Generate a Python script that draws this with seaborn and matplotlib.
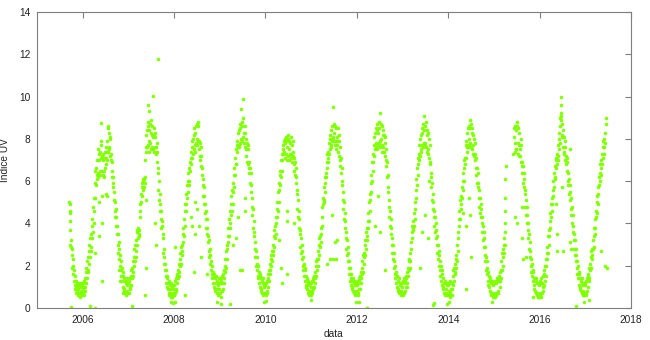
import numpy as np
import pandas as pd
import matplotlib
matplotlib.use("Agg")
import matplotlib.pyplot as plt
import seaborn as sns

# ---------------- data (UV index, one reading every 3 days) ----------------
STEP_DAYS = 3

uv_2005 = [5.0, 4.6, 4.1, 3.7, 2.9, 3.2, 2.5, 2.8, 1.9, 2.3,
           1.6, 2.0, 1.3, 1.8, 1.1, 1.5, 0.9, 1.3, 1.0, 0.7,
           1.2, 0.8, 1.1, 0.6, 0.9, 1.2, 0.7, 1.0, 0.5, 1.1,
           0.8, 1.2, 0.7, 1.0, 0.6, 1.1]
uv_2006 = [0.7, 1.2, 0.9, 0.6, 1.3, 0.8, 1.4, 1.0, 1.7, 1.2,
           1.9, 1.4, 2.2, 1.7, 2.4, 1.8, 2.7, 2.1, 3.0, 2.4,
           3.3, 2.7, 3.5, 2.9, 3.9, 3.3, 4.2, 3.6, 4.8, 4.0,
           5.2, 4.6, 5.9, 5.2, 6.5, 5.8, 6.6, 6.1, 7.0, 6.3,
           6.4, 7.5, 6.2, 7.0, 7.3, 6.3, 7.4, 6.5, 7.1, 7.7,
           7.9, 6.5, 7.2, 6.3, 7.0, 7.3, 6.2, 7.1, 6.5, 7.4,
           6.6, 7.1, 7.6, 6.8, 7.4, 7.0, 7.9, 7.4, 8.5, 7.6,
           8.3, 7.5, 8.1, 7.2, 8.0, 7.0, 7.3, 6.5, 6.9, 6.2,
           6.2, 5.7, 5.9, 5.1, 5.5, 4.6, 5.0, 4.3, 4.7, 3.9,
           4.3, 3.5, 3.9, 3.0, 3.5, 2.6, 3.1, 2.3, 2.8, 2.0,
           2.5, 1.8, 2.2, 1.5, 1.9, 1.3, 1.7, 1.0, 1.5, 0.9,
           1.4, 0.8, 1.3, 0.7, 1.2, 0.6, 1.3, 0.8, 1.1, 1.4,
           0.7, 1.2]
uv_2007 = [1.2, 0.7, 1.3, 0.9, 1.4, 1.0, 1.5, 1.1, 1.8, 1.4,
           1.9, 1.5, 2.2, 1.7, 2.4, 2.0, 2.8, 2.2, 3.0, 2.4,
           3.2, 2.7, 3.6, 3.0, 3.7, 3.3, 3.8, 3.4, 3.7, 3.5,
           4.3, 4.9, 4.6, 5.4, 5.0, 5.7, 5.3, 5.9, 5.6, 6.1,
           6.0, 5.7, 6.1, 5.9, 6.2, 7.0, 7.6, 8.2, 7.4, 8.4,
           7.6, 8.6, 7.7, 8.8, 7.9, 7.4, 8.4, 7.8, 8.7, 7.5,
           8.3, 8.9, 7.6, 8.2, 8.6, 7.5, 8.1, 8.5, 7.4, 8.2,
           8.1, 7.6, 8.3, 7.3, 7.6, 7.8, 6.9, 7.4, 6.4, 6.6,
           5.6, 6.0, 5.1, 5.4, 4.6, 4.9, 4.2, 4.6, 3.8, 4.1,
           3.9, 3.3, 3.5, 2.6, 2.8, 2.1, 2.4, 1.8, 2.1, 1.5,
           1.8, 1.2, 1.5, 1.0, 1.4, 0.9, 1.2, 0.7, 1.3, 0.6,
           1.1, 0.7, 0.9, 0.5, 1.2, 0.6, 1.0, 0.5, 1.1, 0.7,
           0.9, 0.6]
uv_2008 = [0.6, 1.1, 0.7, 1.3, 0.8, 1.4, 0.9, 1.5, 1.2, 1.6,
           1.4, 1.8, 1.5, 2.1, 1.7, 2.3, 2.0, 2.6, 2.1, 2.9,
           2.5, 3.0, 2.7, 3.5, 3.1, 3.8, 3.4, 4.2, 4.6, 3.9,
           4.9, 4.6, 5.4, 4.9, 5.8, 5.2, 6.0, 5.5, 6.4, 5.8,
           6.6, 6.0, 6.9, 6.5, 7.1, 7.4, 6.8, 7.6, 7.9, 7.1,
           8.0, 7.3, 8.2, 7.5, 8.5, 7.7, 8.3, 7.4, 8.6, 7.8,
           8.7, 8.0, 7.7, 8.6, 7.9, 8.8, 7.5, 7.9, 7.2, 7.8,
           7.0, 7.6, 6.7, 7.2, 6.3, 6.6, 5.8, 6.1, 5.3, 5.7,
           4.9, 5.3, 4.5, 4.9, 4.2, 4.6, 3.8, 4.2, 3.5, 3.8,
           3.1, 3.4, 2.7, 3.2, 2.4, 2.8, 2.1, 2.5, 1.8, 2.2,
           1.6, 2.0, 1.4, 1.7, 1.2, 1.5, 1.0, 1.6, 0.9, 1.4,
           0.8, 1.5, 0.9, 1.2, 0.7, 1.3, 0.9, 1.1, 0.6, 1.4,
           0.9, 1.2]
uv_2009 = [1.2, 0.7, 1.3, 0.5, 1.4, 0.8, 1.2, 1.5, 0.9, 1.6,
           1.2, 1.8, 1.4, 2.0, 1.7, 2.3, 1.9, 2.7, 2.3, 3.0,
           2.8, 3.4, 3.1, 3.8, 3.4, 4.2, 3.8, 4.6, 4.0, 4.9,
           4.4, 5.3, 4.6, 5.6, 4.9, 5.9, 5.5, 6.3, 5.7, 6.6,
           6.3, 7.1, 6.8, 7.5, 6.8, 7.7, 7.4, 7.9, 7.6, 8.3,
           7.6, 8.4, 7.7, 8.5, 7.8, 8.7, 8.0, 9.4, 8.6, 7.9,
           8.8, 8.1, 9.0, 9.9, 8.3, 7.8, 8.6, 7.6, 8.3, 7.5,
           8.0, 7.2, 7.8, 6.9, 7.7, 6.8, 7.5, 6.6, 6.9, 6.4,
           6.6, 5.9, 6.4, 5.5, 5.8, 4.8, 5.2, 4.4, 4.7, 3.8,
           4.1, 3.4, 3.6, 2.8, 3.1, 2.4, 2.7, 2.0, 2.4, 1.8,
           2.1, 1.5, 2.0, 1.4, 1.7, 1.2, 1.5, 1.0, 1.6, 0.9,
           1.4, 0.8, 1.3, 0.7, 1.2, 1.4, 0.6, 1.1, 0.7, 1.0,
           1.2, 0.7]
uv_2010 = [1.1, 0.6, 1.2, 0.7, 1.3, 0.8, 1.4, 1.0, 1.6, 1.3,
           1.8, 1.6, 2.1, 1.8, 2.3, 2.0, 2.5, 2.2, 2.7, 2.5,
           3.0, 2.7, 3.4, 2.9, 3.7, 3.3, 3.9, 3.5, 4.3, 4.0,
           4.7, 4.3, 5.0, 4.6, 5.5, 5.0, 5.9, 5.6, 6.3, 5.8,
           6.5, 6.2, 7.0, 6.5, 7.3, 7.0, 7.5, 7.3, 7.7, 7.9,
           7.4, 8.0, 7.1, 7.8, 8.1, 7.3, 7.9, 7.0, 7.6, 8.2,
           7.2, 8.0, 7.5, 7.0, 7.9, 7.3, 7.8, 7.1, 8.1, 7.3,
           7.7, 6.9, 7.9, 7.2, 7.4, 6.8, 7.1, 6.5, 6.9, 6.3,
           6.6, 5.9, 6.2, 5.4, 5.6, 4.7, 5.1, 4.3, 4.6, 3.8,
           4.2, 3.5, 3.7, 2.9, 3.3, 2.6, 3.0, 2.3, 2.7, 2.0,
           2.4, 1.8, 2.1, 1.5, 1.9, 1.3, 1.8, 1.1, 1.5, 1.0,
           1.4, 0.9, 1.2, 0.7, 1.3, 0.8, 1.1, 0.6, 1.2, 0.8,
           1.0, 0.6]
uv_2011 = [1.2, 0.7, 1.3, 0.8, 1.4, 0.9, 1.3, 1.0, 1.5, 1.2,
           1.7, 1.4, 2.0, 1.5, 2.2, 1.8, 2.3, 2.0, 2.7, 2.3,
           3.0, 2.5, 3.3, 2.9, 3.4, 3.1, 3.8, 3.5, 3.9, 4.3,
           4.8, 5.2, 4.9, 5.1, 5.0, 5.7, 5.5, 6.2, 5.9, 6.4,
           6.2, 6.9, 6.6, 7.3, 6.9, 7.4, 7.1, 7.8, 7.3, 8.0,
           7.5, 8.2, 7.6, 8.4, 7.7, 8.6, 7.9, 8.1, 9.5, 8.0,
           8.3, 8.7, 7.9, 7.7, 8.6, 7.9, 7.5, 8.5, 7.7, 7.9,
           8.1, 8.5, 7.4, 8.2, 7.2, 7.9, 7.0, 7.6, 6.7, 7.1,
           6.4, 6.6, 5.8, 6.0, 5.1, 5.5, 4.7, 5.0, 4.2, 4.5,
           3.8, 4.1, 3.3, 3.6, 2.8, 3.2, 2.5, 2.9, 2.2, 2.6,
           1.9, 2.2, 1.6, 1.9, 1.3, 1.6, 1.1, 1.4, 0.9, 1.3,
           1.0, 1.4, 0.8, 1.2, 0.7, 1.3, 0.6, 1.1, 0.8, 1.2,
           0.7, 1.1]
uv_2012 = [0.8, 1.3, 0.7, 1.2, 0.6, 1.4, 0.9, 1.3, 0.9, 1.5,
           1.2, 1.7, 1.4, 1.9, 1.6, 2.2, 1.7, 2.5, 2.1, 2.6,
           2.4, 3.0, 2.5, 3.2, 2.8, 3.6, 3.2, 3.8, 3.4, 4.1,
           3.8, 4.5, 4.1, 5.0, 4.6, 5.4, 5.1, 5.9, 5.5, 6.3,
           6.0, 6.9, 6.5, 7.3, 6.9, 7.7, 7.2, 8.1, 7.5, 8.3,
           7.6, 8.5, 7.8, 7.5, 8.4, 8.7, 7.7, 8.3, 8.8, 7.8,
           8.5, 9.2, 7.9, 7.6, 8.7, 8.0, 7.7, 8.6, 7.4, 8.2,
           8.4, 7.6, 8.2, 7.4, 8.1, 7.2, 7.8, 7.0, 7.5, 6.7,
           6.9, 6.2, 6.3, 5.5, 5.7, 4.8, 5.1, 4.3, 4.6, 3.9,
           4.2, 3.5, 3.8, 3.0, 3.3, 2.6, 3.0, 2.3, 2.6, 1.9,
           2.2, 1.6, 2.0, 1.4, 1.7, 1.2, 1.5, 1.0, 1.5, 0.9,
           1.3, 0.8, 1.4, 0.7, 1.2, 0.8, 1.1, 0.6, 1.2, 0.8,
           1.0, 0.7]
uv_2013 = [0.7, 1.3, 0.6, 1.2, 1.4, 0.7, 1.3, 0.8, 1.4, 1.0,
           1.5, 1.0, 1.7, 1.2, 1.9, 1.5, 2.2, 1.8, 2.3, 1.9,
           2.6, 2.2, 3.1, 2.8, 3.6, 3.3, 3.9, 3.7, 4.1, 3.8,
           3.9, 4.5, 4.2, 5.0, 4.7, 5.6, 5.2, 6.1, 5.8, 6.6,
           6.3, 7.1, 6.8, 7.3, 7.0, 7.7, 7.2, 8.0, 7.4, 8.2,
           7.5, 8.3, 7.7, 8.5, 7.6, 8.7, 7.8, 9.1, 8.4, 7.7,
           8.6, 7.8, 8.8, 7.6, 8.4, 7.4, 8.2, 7.5, 8.3, 7.3,
           8.0, 7.1, 7.7, 6.8, 6.9, 6.2, 6.4, 5.7, 5.9, 5.1,
           5.4, 4.7, 5.0, 4.3, 4.6, 3.9, 4.3, 3.6, 4.0, 3.3,
           3.7, 3.0, 3.4, 2.6, 3.0, 2.3, 2.7, 2.0, 2.5, 1.8,
           2.2, 1.5, 2.0, 1.3, 1.8, 1.1, 1.6, 0.9, 1.4, 1.0,
           1.2, 0.7, 1.3, 0.6, 1.2, 0.7, 0.9, 1.2, 0.6, 1.1,
           1.2, 0.6]
uv_2014 = [1.1, 0.6, 1.2, 0.8, 0.5, 1.3, 0.7, 1.2, 0.9, 0.6,
           1.2, 0.9, 1.5, 1.1, 1.8, 1.3, 1.9, 1.6, 2.1, 1.7,
           2.3, 1.9, 2.5, 2.2, 3.0, 2.7, 3.6, 3.3, 4.2, 3.9,
           4.6, 4.2, 5.1, 4.7, 5.3, 4.9, 5.7, 5.2, 6.0, 5.6,
           6.4, 6.0, 7.0, 6.6, 7.1, 6.8, 7.7, 7.1, 7.9, 7.6,
           7.4, 8.3, 7.6, 8.5, 7.7, 8.6, 8.0, 8.9, 7.8, 8.5,
           7.6, 8.7, 8.3, 7.5, 8.5, 7.7, 8.2, 7.3, 8.0, 7.2,
           7.8, 7.0, 7.3, 6.6, 7.1, 6.3, 6.6, 5.9, 6.4, 5.7,
           5.9, 5.2, 5.6, 4.8, 5.2, 4.5, 4.9, 4.3, 4.7, 4.0,
           4.3, 3.6, 3.9, 3.2, 3.6, 2.9, 3.3, 2.5, 2.9, 2.2,
           2.4, 1.8, 2.2, 1.6, 1.9, 1.3, 1.7, 1.1, 1.5, 1.0,
           1.3, 0.8, 1.4, 0.7, 1.2, 0.6, 1.3, 0.7, 0.5, 1.2,
           1.1, 0.6]
uv_2015_winter = [0.6, 1.2, 0.7, 1.3, 0.5, 1.2, 0.6, 1.4, 0.7, 1.3,
                  0.8, 1.4, 0.7, 1.3, 1.5, 1.0, 1.7, 1.3, 1.8, 1.4,
                  2.2, 1.8, 2.6, 2.0, 2.8, 2.4, 3.0, 2.6, 3.3, 3.0]
uv_2015_summer = [7.3, 8.1, 8.5, 7.4, 8.6, 7.8, 7.5, 8.4,
                  7.5, 8.6, 8.8, 7.8, 7.3, 8.5, 7.7, 7.2, 8.3, 7.5,
                  7.2, 8.0, 6.9, 7.7, 6.7, 6.9, 6.4, 6.7, 5.9, 6.4,
                  5.7, 6.1, 5.4, 5.6, 4.8, 5.1, 4.4, 4.8, 4.0, 4.4,
                  3.7, 4.0, 3.3, 3.5, 2.8, 3.1, 2.4, 2.7, 2.0, 2.3,
                  1.7, 2.1, 1.5, 1.8, 1.3, 1.7, 1.1, 1.4, 0.9, 1.4,
                  0.8, 1.4, 0.7, 1.3, 0.6, 1.2, 0.7, 0.5, 1.2, 0.6,
                  1.1, 0.5]
uv_2016 = [0.7, 1.3, 0.6, 1.2, 0.5, 1.4, 0.7, 1.2, 0.8, 1.5,
           1.0, 1.6, 1.1, 1.8, 1.3, 2.0, 1.5, 2.3, 2.0, 2.6,
           2.3, 2.9, 2.6, 3.4, 3.0, 3.7, 3.4, 4.1, 3.8, 4.5,
           4.3, 4.9, 4.6, 5.2, 4.9, 5.6, 5.3, 6.0, 5.7, 6.4,
           6.1, 6.7, 6.2, 7.0, 6.6, 7.1, 6.8, 7.3, 7.0, 7.7,
           7.2, 8.0, 7.5, 8.3, 8.6, 7.8, 9.1, 10.0, 8.9, 8.1,
           8.2, 8.7, 7.6, 8.4, 7.4, 8.1, 7.3, 7.9, 7.0, 7.6,
           7.2, 6.8, 7.1, 6.5, 6.9, 6.0, 6.4, 5.8, 6.1, 5.4,
           5.8, 5.1, 5.5, 4.7, 5.2, 4.4, 4.8, 4.0, 4.4, 3.6,
           3.9, 3.2, 3.5, 2.8, 3.2, 2.5, 2.8, 2.2, 2.5, 1.9,
           2.2, 1.6, 2.0, 1.4, 1.7, 1.1, 1.6, 1.0, 1.4, 0.9,
           1.3, 0.8, 1.2, 0.7, 1.4, 0.6, 1.1, 0.8, 1.2, 0.6,
           1.1, 0.7]
uv_2017 = [1.2, 0.6, 1.3, 0.7, 1.4, 0.8, 1.5, 1.0, 1.6, 1.3,
           1.9, 1.4, 2.1, 1.8, 2.4, 1.9, 2.7, 2.3, 2.8, 2.5,
           3.2, 2.8, 3.4, 2.9, 3.8, 3.5, 4.2, 3.8, 4.6, 4.3,
           5.0, 4.5, 5.3, 4.9, 5.7, 5.4, 6.2, 5.8, 6.4, 6.0,
           6.8, 6.3, 7.0, 6.6, 7.3, 6.8, 7.6, 7.1, 7.9, 7.3,
           8.0, 7.6, 8.3, 7.8, 8.7, 9.0]

segment_starts = ["2005-09-16", "2006-01-01", "2007-01-01", "2008-01-01",
                  "2009-01-01", "2010-01-01", "2011-01-01", "2012-01-01",
                  "2013-01-01", "2014-01-01", "2015-01-01", "2015-06-06",
                  "2016-01-01", "2017-01-01"]
segment_values = [uv_2005, uv_2006, uv_2007, uv_2008, uv_2009, uv_2010,
                  uv_2011, uv_2012, uv_2013, uv_2014, uv_2015_winter,
                  uv_2015_summer, uv_2016, uv_2017]

# isolated readings away from the seasonal band
stray_dates = ["2005-09-18", "2005-09-21", "2005-09-24", "2005-10-03",
               "2006-03-04", "2006-04-12", "2006-04-08", "2006-05-12", "2006-05-10",
               "2006-05-30", "2006-06-02", "2006-06-05", "2006-06-01", "2006-07-05",
               "2006-07-18", "2006-07-24", "2006-10-15", "2006-10-25", "2006-11-15",
               "2007-01-26", "2007-05-15", "2007-05-20", "2007-05-18", "2007-06-10",
               "2007-06-14", "2007-07-16", "2007-08-03", "2007-08-06", "2007-08-24",
               "2007-12-05", "2007-12-20",
               "2008-01-12", "2008-01-05", "2008-04-01", "2008-05-12", "2008-05-20",
               "2008-06-05", "2008-06-15", "2008-06-20", "2008-07-01", "2008-07-20",
               "2008-08-05", "2008-09-20", "2008-12-10",
               "2009-01-10", "2009-03-25", "2009-04-20", "2009-05-10", "2009-05-28",
               "2009-06-12", "2009-06-28", "2009-07-22", "2009-07-25", "2009-12-20",
               "2010-01-05", "2010-04-20", "2010-05-08", "2010-05-10", "2010-06-20",
               "2010-06-22", "2010-06-26", "2010-08-15", "2010-12-28",
               "2011-05-08", "2011-06-02", "2011-06-18", "2011-06-25", "2011-07-25",
               "2011-07-14", "2011-07-20", "2011-12-25",
               "2012-01-20", "2012-03-22", "2012-03-23", "2012-05-25", "2012-06-20",
               "2012-07-01", "2012-08-10",
               "2013-05-20", "2013-06-05", "2013-07-01", "2013-07-20", "2013-08-01",
               "2013-09-01", "2013-09-10", "2013-12-20",
               "2014-01-10", "2014-05-01", "2014-05-19", "2014-05-20", "2014-06-15",
               "2014-06-25", "2014-07-01", "2014-12-15",
               "2015-03-30", "2015-03-31", "2015-04-01", "2015-04-02", "2015-04-03",
               "2015-04-04", "2015-06-18", "2015-07-03", "2015-08-10", "2015-08-12",
               "2015-08-20", "2015-09-13", "2015-11-12",
               "2016-05-20", "2016-05-18", "2016-05-12", "2016-06-15", "2016-06-20",
               "2016-06-23", "2016-06-25", "2016-07-10", "2016-08-28", "2016-08-30",
               "2016-09-05", "2016-10-20", "2016-12-20",
               "2017-01-30", "2017-05-10", "2017-06-10", "2017-06-20"]
stray_values = [4.9, 4.5, 3.0, 0.05,
                0.1, 0.0, 2.6, 3.4, 5.0,
                8.75, 1.3, 4.0, 5.3, 5.4,
                5.3, 8.6, 1.8, 1.3, 0.7,
                0.1, 0.6, 1.9, 5.1, 9.6,
                9.3, 10.05, 4.0, 3.0, 11.8,
                0.3, 0.25,
                2.9, 0.3, 0.6, 4.3, 3.9,
                1.7, 5.0, 3.5, 4.7, 3.9,
                2.4, 1.6, 0.3,
                0.2, 0.2, 3.0, 3.3, 4.3,
                1.8, 1.8, 4.6, 5.2, 0.3,
                0.35, 3.2, 1.9, 1.2, 1.6,
                4.6, 4.1, 4.0, 0.4,
                2.1, 2.3, 4.4, 2.3, 3.2,
                3.1, 2.3, 0.3,
                0.3, 0.0, 0.0, 3.9, 5.3,
                3.6, 1.8,
                1.9, 3.6, 4.4, 3.3, 6.0,
                0.15, 0.25, 0.2,
                0.3, 4.5, 0.9, 3.9, 5.2,
                4.4, 2.4, 0.3,
                3.6, 4.0, 4.6, 5.2, 6.1,
                6.7, 4.3, 4.0, 4.8, 3.3,
                2.3, 2.4, 0.5,
                2.7, 3.5, 4.9, 9.0, 9.6,
                9.2, 5.7, 2.7, 3.1, 7.5,
                2.8, 0.1, 0.3,
                0.4, 2.7, 2.0, 1.9]

x_ticks = [2006, 2008, 2010, 2012, 2014, 2016, 2018]
y_ticks = [0, 2, 4, 6, 8, 10, 12, 14]

# ---------------- build table ----------------
def decimal_year(d):
    d = pd.DatetimeIndex(d)
    days_in_year = np.where(d.is_leap_year, 366.0, 365.0)
    return d.year + (d.dayofyear - 1) / days_in_year

frames = []
for start, vals in zip(segment_starts, segment_values):
    dates = pd.date_range(start, periods=len(vals), freq=f"{STEP_DAYS}D")
    frames.append(pd.DataFrame({"data": decimal_year(dates), "uv": vals}))
frames.append(pd.DataFrame({"data": decimal_year(pd.to_datetime(stray_dates)),
                            "uv": stray_values}))
df = pd.concat(frames, ignore_index=True)

# ---------------- plot ----------------
sns.set_style("white")
plt.rcParams["font.family"] = ["Liberation Sans", "DejaVu Sans"]

fig = plt.figure(figsize=(6.5, 3.4), dpi=100)
ax = fig.add_axes([37 / 650, 1 - 308 / 340, (631 - 37) / 650, (308 - 12) / 340])

sns.scatterplot(data=df, x="data", y="uv", ax=ax, color="#80ff00",
                s=7, linewidth=0, alpha=0.95, legend=False)

ax.set_xlim(2005, 2018)
ax.set_ylim(0, 14)
ax.set_xticks(x_ticks)
ax.set_yticks(y_ticks)
ax.set_xticklabels([str(t) for t in x_ticks])
ax.set_yticklabels([str(t) for t in y_ticks])
ax.tick_params(direction="in", length=4, width=0.8, color="#7f7f7f",
               top=True, right=True, labelsize=7.3, labelcolor="#222222", pad=5)
for sp in ax.spines.values():
    sp.set_color("#7f7f7f")
    sp.set_linewidth(0.8)
ax.set_xlabel("data", fontsize=7.3, color="#222222", labelpad=3)
ax.set_ylabel("Indice UV", fontsize=7.3, color="#222222", labelpad=6)

fig.savefig("out.png", dpi=100)
